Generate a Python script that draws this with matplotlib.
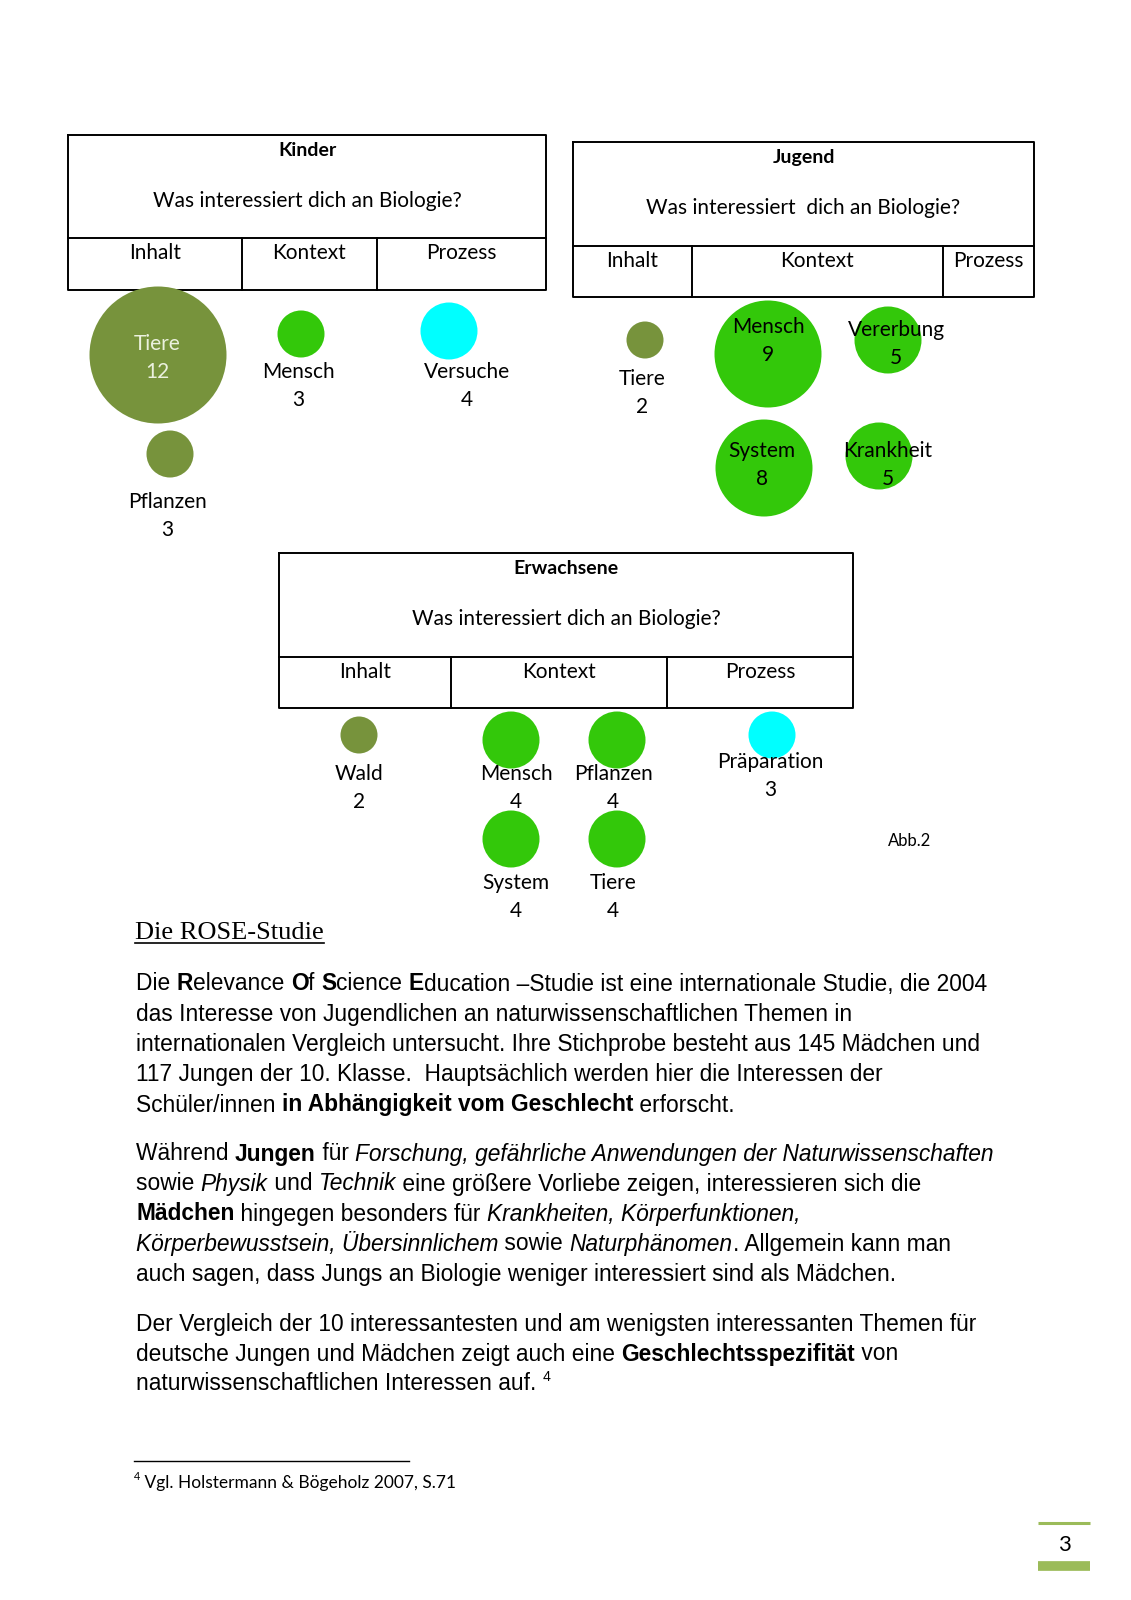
import matplotlib
matplotlib.use('Agg')
import matplotlib.pyplot as plt
from matplotlib.patches import Circle
from matplotlib.font_manager import FontProperties

# data: topics, counts, category (Inhalt / Kontext / Prozess)
kinder_labels = ['Tiere', 'Pflanzen', 'Mensch', 'Versuche']
kinder_values = [12, 3, 3, 4]
kinder_types = ['Inhalt', 'Inhalt', 'Kontext', 'Prozess']

jugend_labels = ['Tiere', 'Mensch', 'Vererbung', 'System', 'Krankheit']
jugend_values = [2, 9, 5, 8, 5]
jugend_types = ['Inhalt', 'Kontext', 'Kontext', 'Kontext', 'Kontext']

erw_labels = ['Wald', 'Mensch', 'Pflanzen', 'System', 'Tiere', 'Präparation']
erw_values = [2, 4, 4, 4, 4, 3]
erw_types = ['Inhalt', 'Kontext', 'Kontext', 'Kontext', 'Kontext', 'Prozess']

columns = ['Inhalt', 'Kontext', 'Prozess']
question = 'Was interessiert dich an Biologie?'

# styles
colors = {'Inhalt': '#77933C', 'Kontext': '#33C80A', 'Prozess': '#00FFFF'}
LABEL_FONT = 'Lato'
BODY_FONT = 'Liberation Sans'

def radius(v):
    # bubble radius grows linearly with the count
    return 8.5 + 5 * v

fig = plt.figure(figsize=(11.31, 16), dpi=100)
ax = fig.add_axes([0, 0, 1, 1])
ax.set_xlim(0, 1131)
ax.set_ylim(1600, 0)
ax.axis('off')
renderer = fig.canvas.get_renderer()


def draw_table(x0, x1, top, mid, bot, splits, title, q):
    lw = 1.4
    ax.plot([x0, x1, x1, x0, x0], [top, top, bot, bot, top], color='black', lw=lw)
    ax.plot([x0, x1], [mid, mid], color='black', lw=lw)
    for sx in splits:
        ax.plot([sx, sx], [mid, bot], color='black', lw=lw)
    cx = (x0 + x1) / 2
    ax.text(cx, top + 16, title, ha='center', va='center', fontsize=14,
            family=LABEL_FONT, weight='bold')
    ax.text(cx, top + 66, q, ha='center', va='center', fontsize=15, family=LABEL_FONT)
    edges = [x0] + splits + [x1]
    for i, c in enumerate(columns):
        ax.text((edges[i] + edges[i + 1]) / 2, mid + 15, c, ha='center', va='center',
                fontsize=15, family=LABEL_FONT)


def draw_bubbles(labels, values, types, centres, label_pos, text_colors=None):
    for i in range(len(labels)):
        cx, cy = centres[i]
        ax.add_patch(Circle((cx, cy), radius(values[i]), color=colors[types[i]], lw=0, zorder=2))
        lx, ly = label_pos[i]
        tc = text_colors[i] if text_colors else 'black'
        ax.text(lx, ly, labels[i], ha='center', va='center', fontsize=15,
                family=LABEL_FONT, color=tc, zorder=3)
        ax.text(lx, ly + 28, str(values[i]), ha='center', va='center', fontsize=15,
                family=LABEL_FONT, color=tc, zorder=3)


# Kinder
draw_table(68, 546, 135, 238, 290, [242, 377], 'Kinder', question)
draw_bubbles(kinder_labels, kinder_values, kinder_types,
             [(158, 355), (170, 454), (301, 334), (449, 331)],
             [(157, 344), (167, 502), (298, 372), (467, 372)],
             ['#EBF1DE', 'black', 'black', 'black'])

# Jugend
draw_table(573, 1034, 142, 246, 297, [692, 943], 'Jugend', 'Was interessiert  dich an Biologie?')
draw_bubbles(jugend_labels, jugend_values, jugend_types,
             [(645, 340), (768, 354), (888, 340), (764, 468), (879, 456)],
             [(642, 379), (768, 327), (896, 330), (762, 451), (888, 451)])

# Erwachsene
draw_table(279, 853, 553, 657, 708, [451, 667], 'Erwachsene', question)
draw_bubbles(erw_labels, erw_values, erw_types,
             [(359, 735), (511, 740), (617, 740), (511, 839), (617, 839), (772, 735)],
             [(359, 774), (516, 774), (613, 774), (516, 883), (613, 883), (770, 762)])

ax.text(910, 841, 'Abb.2', ha='center', va='center', fontsize=12, family=LABEL_FONT)

# heading
ht = ax.text(135, 933, 'Die ROSE-Studie', ha='left', va='center', fontsize=19,
             family='Liberation Serif')
hb = ht.get_window_extent(renderer=renderer)
ax.plot([135, 135 + hb.width], [943, 943], color='black', lw=1.2)


def seg_width(s, prop):
    w1 = renderer.get_text_width_height_descent('X' + s + 'X', prop, ismath=False)[0]
    w0 = renderer.get_text_width_height_descent('XX', prop, ismath=False)[0]
    return w1 - w0


def draw_runs(x, y, runs, size=16.4, family=BODY_FONT):
    for txt, st in runs:
        if st == 'sup':
            prop = FontProperties(family=family, size=size * 0.62)
            ax.text(x, y - 7, txt, fontproperties=prop, ha='left', va='center')
        else:
            prop = FontProperties(family=family, size=size,
                                  weight='bold' if 'b' in st else 'normal',
                                  style='italic' if 'i' in st else 'normal')
            ax.text(x, y, txt, fontproperties=prop, ha='left', va='center')
        x += seg_width(txt, prop)


body = [
    (984, [('Die ', ''), ('R', 'b'), ('elevance ', ''), ('O', 'b'), ('f ', ''), ('S', 'b'),
           ('cience ', ''), ('E', 'b'),
           ('ducation \u2013Studie ist eine internationale Studie, die 2004', '')]),
    (1014, [('das Interesse von Jugendlichen an naturwissenschaftlichen Themen in', '')]),
    (1044, [('internationalen Vergleich untersucht. Ihre Stichprobe besteht aus 145 Mädchen und', '')]),
    (1074, [('117 Jungen der 10. Klasse.  Hauptsächlich werden hier die Interessen der', '')]),
    (1105, [('Schüler/innen ', ''), ('in Abhängigkeit vom Geschlecht', 'b'), (' erforscht.', '')]),
    (1154, [('Während ', ''), ('Jungen', 'b'), (' für ', ''),
            ('Forschung, gefährliche Anwendungen der Naturwissenschaften', 'i')]),
    (1184, [('sowie ', ''), ('Physik', 'i'), (' und ', ''), ('Technik', 'i'),
            (' eine größere Vorliebe zeigen, interessieren sich die', '')]),
    (1214, [('Mädchen', 'b'), (' hingegen besonders für ', ''), ('Krankheiten, Körperfunktionen,', 'i')]),
    (1244, [('Körperbewusstsein, Übersinnlichem', 'i'), (' sowie ', ''), ('Naturphänomen', 'i'),
            ('. Allgemein kann man', '')]),
    (1274, [('auch sagen, dass Jungs an Biologie weniger interessiert sind als Mädchen.', '')]),
    (1324, [('Der Vergleich der 10 interessantesten und am wenigsten interessanten Themen für', '')]),
    (1354, [('deutsche Jungen und Mädchen zeigt auch eine ', ''), ('Geschlechtsspezifität', 'b'),
            (' von', '')]),
    (1384, [('naturwissenschaftlichen Interessen auf. ', ''), ('4', 'sup')]),
]
for y, runs in body:
    draw_runs(136, y, runs)

# footnote
ax.plot([134, 409], [1461, 1461], color='black', lw=1.0)
draw_runs(134, 1483, [('4', 'sup'), (' Vgl. Holstermann & Bögeholz 2007, S.71', '')],
          size=12.5, family=LABEL_FONT)

# page number
ax.plot([1038, 1090], [1523, 1523], color='#9BBB59', lw=2.2, solid_capstyle='butt')
ax.plot([1038, 1090], [1566, 1566], color='#9BBB59', lw=7, solid_capstyle='butt')
ax.text(1064, 1545, '3', ha='center', va='center', fontsize=16, family=LABEL_FONT)

fig.savefig('out.png', dpi=100)
